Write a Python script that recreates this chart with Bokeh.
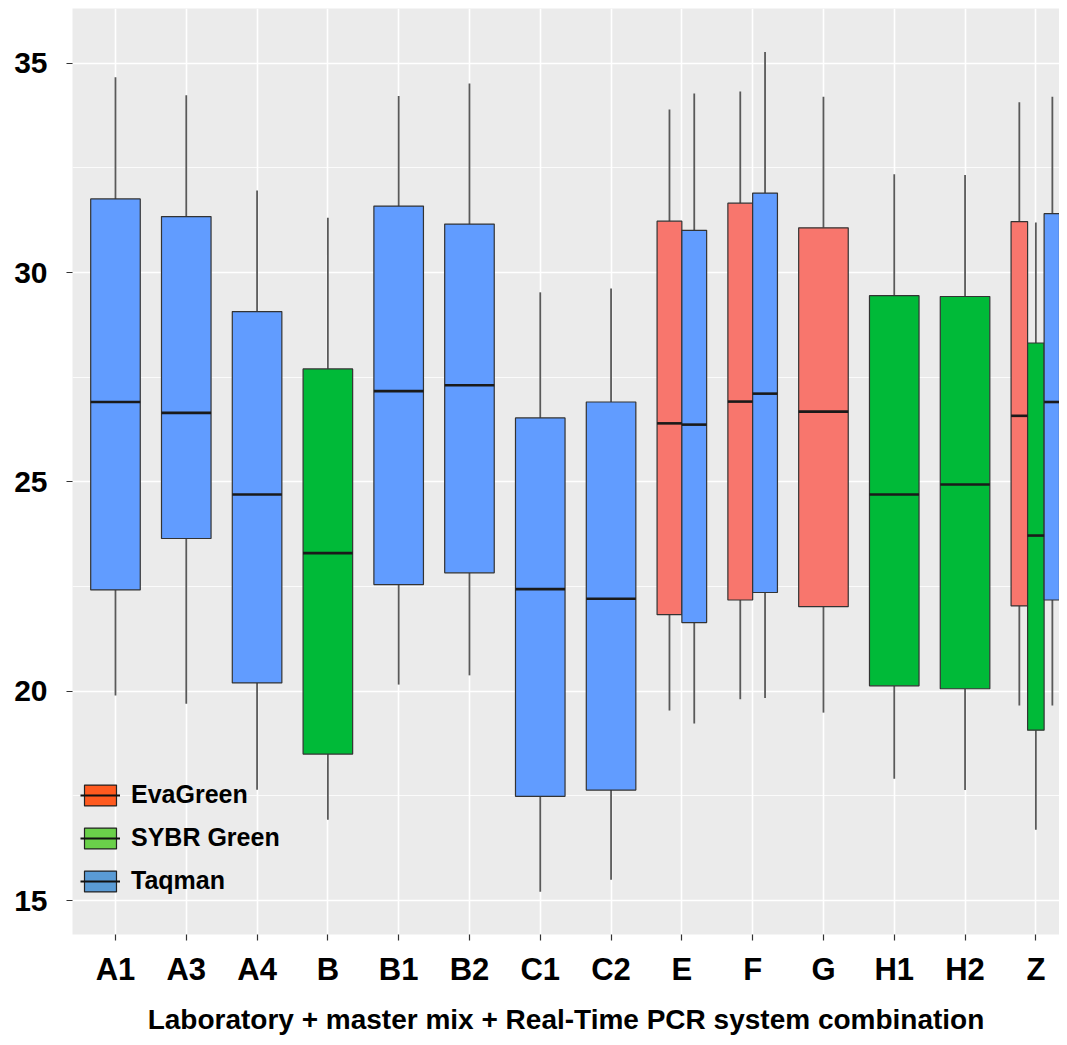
from bokeh.plotting import figure
from bokeh.models import Range1d, FixedTicker, Legend, LegendItem, ColumnDataSource
from bokeh.embed import file_html
from bokeh.resources import INLINE

# ---------------- data ----------------
categories = ["A1", "A3", "A4", "B", "B1", "B2", "C1", "C2", "E", "F", "G", "H1", "H2", "Z"]

box_category = ["A1", "A3", "A4", "B", "B1", "B2", "C1", "C2",
                "E", "E", "F", "F", "G", "H1", "H2", "Z", "Z", "Z"]
box_chemistry = ["Taqman", "Taqman", "Taqman", "SYBR Green", "Taqman", "Taqman", "Taqman", "Taqman",
                 "EvaGreen", "Taqman", "EvaGreen", "Taqman", "EvaGreen", "SYBR Green", "SYBR Green",
                 "EvaGreen", "SYBR Green", "Taqman"]
whisker_low = [19.90, 19.70, 17.65, 16.93, 20.16, 20.38, 15.21, 15.50,
               19.54, 19.23, 19.81, 19.84, 19.49, 17.91, 17.64, 19.66, 16.69, 19.66]
q1 = [22.42, 23.65, 20.20, 18.50, 22.55, 22.83, 17.49, 17.64,
      21.83, 21.64, 22.18, 22.36, 22.02, 20.13, 20.06, 22.04, 19.07, 22.18]
median = [26.91, 26.65, 24.70, 23.30, 27.17, 27.31, 22.44, 22.21,
          26.40, 26.37, 26.92, 27.11, 26.68, 24.70, 24.94, 26.58, 23.72, 26.91]
q3 = [31.76, 31.34, 29.07, 27.70, 31.59, 31.16, 26.53, 26.91,
      31.23, 31.01, 31.66, 31.90, 31.07, 29.45, 29.43, 31.22, 28.32, 31.41]
whisker_high = [34.67, 34.24, 31.96, 31.31, 34.22, 34.52, 29.53, 29.62,
                33.90, 34.28, 34.33, 35.27, 34.20, 32.35, 32.33, 34.07, 31.20, 34.20]

chemistries = ["EvaGreen", "SYBR Green", "Taqman"]
box_colors = {"EvaGreen": "#F8766D", "SYBR Green": "#00BA38", "Taqman": "#619CFF"}
legend_colors = {"EvaGreen": "#FF5A1F", "SYBR Green": "#6AD04A", "Taqman": "#5A9BD5"}

y_ticks = [15, 20, 25, 30, 35]
x_title = "Laboratory + master mix + Real-Time PCR system combination"

# ---------------- positions (dodging) ----------------
cat_pos = {c: i + 1 for i, c in enumerate(categories)}
dodge_total = 0.70
xs, widths = [], []
for i, c in enumerate(box_category):
    members = [k for k, cc in enumerate(box_category) if cc == c]
    n = len(members)
    j = members.index(i)
    w = dodge_total / n
    xs.append(cat_pos[c] - dodge_total / 2 + w * (j + 0.5))
    widths.append(w)

src = ColumnDataSource(dict(
    x=xs, w=widths,
    x0=[x - w / 2 for x, w in zip(xs, widths)],
    x1=[x + w / 2 for x, w in zip(xs, widths)],
    low=whisker_low, q1=q1, med=median, q3=q3, high=whisker_high,
    color=[box_colors[c] for c in box_chemistry],
))

FONT = "Liberation Sans"

p = figure(width=1059, height=1037,
           x_range=Range1d(0.393, 14.334), y_range=Range1d(14.19, 36.31),
           output_backend="svg", toolbar_location=None,
           min_border_left=72, min_border_right=0, min_border_top=8, min_border_bottom=99,
           background_fill_color="#EBEBEB", border_fill_color="white",
           outline_line_color=None)

# whiskers
p.segment(x0="x", y0="q3", x1="x", y1="high", source=src, line_color="#595959", line_width=1.8)
p.segment(x0="x", y0="low", x1="x", y1="q1", source=src, line_color="#595959", line_width=1.8)
# boxes
p.vbar(x="x", width="w", bottom="q1", top="q3", source=src,
       fill_color="color", line_color="#333333", line_width=1.2)
# medians
p.segment(x0="x0", y0="med", x1="x1", y1="med", source=src, line_color="#1a1a1a", line_width=2.6)

# ---------------- axes ----------------
x_ticks = [cat_pos[c] for c in categories]
p.xaxis.ticker = FixedTicker(ticks=x_ticks)
p.xaxis.major_label_overrides = {cat_pos[c]: c for c in categories}
p.xaxis.axis_label = x_title
p.yaxis.ticker = FixedTicker(ticks=y_ticks,
                             minor_ticks=[(a + b) / 2 for a, b in zip(y_ticks[:-1], y_ticks[1:])])

for ax in (p.xaxis, p.yaxis):
    ax.axis_line_color = None
    ax.major_tick_line_color = "#333333"
    ax.major_tick_line_width = 1.2
    ax.major_tick_in = 0
    ax.major_tick_out = 6
    ax.minor_tick_line_color = None
    ax.major_label_text_font = FONT
    ax.major_label_text_font_style = "bold"
    ax.major_label_text_color = "black"

p.yaxis.major_label_text_font_size = "30px"
p.yaxis.major_label_standoff = 19
p.xaxis.major_label_text_font_size = "31px"
p.xaxis.major_label_standoff = 11
p.xaxis.axis_label_text_font = FONT
p.xaxis.axis_label_text_font_style = "bold"
p.xaxis.axis_label_text_font_size = "28px"
p.xaxis.axis_label_text_color = "black"
p.xaxis.axis_label_standoff = 14

# ---------------- grid ----------------
p.xgrid.ticker = FixedTicker(ticks=x_ticks)
p.xgrid.grid_line_color = "white"
p.xgrid.grid_line_width = 1.6
p.ygrid.grid_line_color = "white"
p.ygrid.grid_line_width = 1.6
p.ygrid.minor_grid_line_color = "white"
p.ygrid.minor_grid_line_width = 0.8

# ---------------- legend ----------------
nan = float("nan")
items = []
for chem in chemistries:
    rb = p.vbar(x=[nan], top=[nan], bottom=[nan], width=0.5,
                fill_color=legend_colors[chem], line_color="#222222", line_width=1.2)
    rm = p.line(x=[nan], y=[nan], line_color="#111111", line_width=2)
    items.append(LegendItem(label=chem, renderers=[rb, rm]))

legend = Legend(items=items, location=(8, 39),
                glyph_width=40, glyph_height=26, label_height=26, spacing=14,
                padding=0, margin=0, label_standoff=11,
                label_text_font=FONT, label_text_font_style="bold",
                label_text_font_size="25px", label_text_color="black",
                background_fill_alpha=0, border_line_alpha=0)
p.add_layout(legend)

open("out.html", "w").write(file_html(p, INLINE))
